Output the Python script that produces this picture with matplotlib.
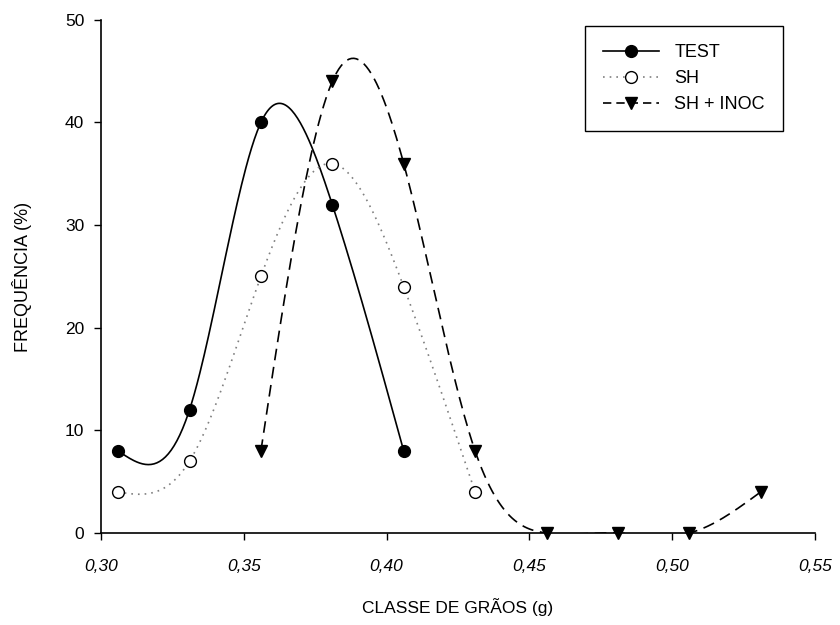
import numpy as np
import matplotlib
matplotlib.use("Agg")
import matplotlib.pyplot as plt

plt.rcParams['font.family'] = ['Liberation Sans', 'DejaVu Sans']

# grain classes (g) and frequencies (%)
x_test = [0.306, 0.331, 0.356, 0.381, 0.406]
y_test = [8, 12, 40, 32, 8]

x_sh = [0.306, 0.331, 0.356, 0.381, 0.406, 0.431]
y_sh = [4, 7, 25, 36, 24, 4]

x_inoc = [0.356, 0.381, 0.406, 0.431, 0.456, 0.481, 0.506, 0.531]
y_inoc = [8, 44, 36, 8, 0, 0, 0, 4]

xticks = [0.30, 0.35, 0.40, 0.45, 0.50, 0.55]
xticklabels = ['0,30', '0,35', '0,40', '0,45', '0,50', '0,55']
yticks = [0, 10, 20, 30, 40, 50]


def natural_spline(x, y, n=200):
    # plain natural cubic spline, only for drawing the smooth line
    x = np.asarray(x, float)
    y = np.asarray(y, float)
    k = len(x)
    h = np.diff(x)
    A = np.zeros((k, k))
    b = np.zeros(k)
    A[0, 0] = A[-1, -1] = 1
    for i in range(1, k - 1):
        A[i, i - 1] = h[i - 1]
        A[i, i] = 2 * (h[i - 1] + h[i])
        A[i, i + 1] = h[i]
        b[i] = 6 * ((y[i + 1] - y[i]) / h[i] - (y[i] - y[i - 1]) / h[i - 1])
    M = np.linalg.solve(A, b)
    xs = np.linspace(x[0], x[-1], n)
    idx = np.clip(np.searchsorted(x, xs) - 1, 0, k - 2)
    x0, x1 = x[idx], x[idx + 1]
    hh = x1 - x0
    t0 = x1 - xs
    t1 = xs - x0
    ys = (M[idx] * t0**3 + M[idx + 1] * t1**3) / (6 * hh) \
        + (y[idx] / hh - M[idx] * hh / 6) * t0 \
        + (y[idx + 1] / hh - M[idx + 1] * hh / 6) * t1
    return xs, ys


fig = plt.figure(figsize=(8.4, 6.25), dpi=100)
ax = fig.add_axes([0.1202, 0.1472, 0.85, 0.821])

xs, ys = natural_spline(x_test, y_test)
ax.plot(xs, ys, color='black', lw=1.2, zorder=3)
ax.plot(x_test, y_test, 'o', color='black', ms=8.5, zorder=4)

xs, ys = natural_spline(x_sh, y_sh)
ax.plot(xs, ys, color='#808080', lw=1.2, ls=(0, (1, 3)), zorder=3)
ax.plot(x_sh, y_sh, 'o', mfc='white', mec='black', mew=1.0, ms=8.5, zorder=4)

xs, ys = natural_spline(x_inoc, y_inoc)
ax.plot(xs, ys, color='black', lw=1.2, ls=(0, (7, 4)), zorder=3)
ax.plot(x_inoc, y_inoc, 'v', color='black', ms=9, zorder=4, clip_on=False)

# legend proxies
h1, = ax.plot([], [], color='black', lw=1.2, marker='o', ms=8.5)
h2, = ax.plot([], [], color='#808080', lw=1.2, ls=(0, (1, 3)), marker='o',
              mfc='white', mec='black', ms=8.5)
h3, = ax.plot([], [], color='black', lw=1.2, ls=(0, (5, 3)), marker='v', ms=9)
leg = ax.legend([h1, h2, h3], ['TEST', 'SH', 'SH + INOC'],
                loc='upper right', bbox_to_anchor=(0.955, 0.988), fontsize=13,
                fancybox=False, edgecolor='black', framealpha=1,
                borderaxespad=0, handlelength=3.1, handletextpad=0.85,
                borderpad=1.0, labelspacing=0.5)
leg.get_frame().set_linewidth(1.0)

ax.set_xlim(0.30, 0.55)
ax.set_ylim(0, 50)
ax.set_xticks(xticks)
ax.set_xticklabels(xticklabels, fontstyle='italic')
ax.set_yticks(yticks)
ax.tick_params(direction='out', length=5, width=1, labelsize=12.5, color='black')
ax.tick_params(axis='x', pad=14)
ax.tick_params(axis='y', pad=7)
for s in ['top', 'right']:
    ax.spines[s].set_visible(False)
for s in ['left', 'bottom']:
    ax.spines[s].set_linewidth(1.2)

ax.set_xlabel('CLASSE DE GRÃOS (g)', fontsize=12.5, labelpad=17)
ax.set_ylabel('FREQUÊNCIA (%)', fontsize=13, labelpad=24)

fig.savefig('out.png', dpi=100)
